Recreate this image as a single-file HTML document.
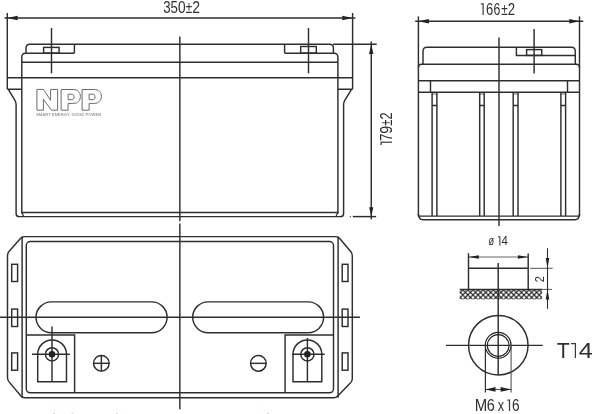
<!DOCTYPE html>
<html><head><meta charset="utf-8"><style>
html,body{margin:0;padding:0;background:#fff;}
body{width:600px;height:414px;overflow:hidden;}
svg{display:block;}
text{font-family:"Liberation Sans",sans-serif;}
</style></head><body>
<svg width="600" height="414" viewBox="0 0 600 414">
<defs>
<pattern id="hatch" width="5.1" height="5.1" patternUnits="userSpaceOnUse" x="460.2" y="287.3">
<path d="M-1,-1 L6.1,6.1 M6.1,-1 L-1,6.1" stroke="#222" stroke-width="1.15"/>
</pattern>
</defs>
<g fill="none" stroke="#2e2e2e" stroke-width="1.45">
<!-- ===== FRONT VIEW ===== -->
<line x1="4.5" y1="18" x2="355.4" y2="18"/>
<line x1="7.3" y1="13" x2="7.3" y2="89.2"/>
<line x1="352.6" y1="13" x2="352.6" y2="89.2"/>
<line x1="51.5" y1="28" x2="51.5" y2="73.3"/>
<line x1="308.5" y1="28" x2="308.5" y2="73.3"/>
<line x1="179.85" y1="36.6" x2="179.85" y2="221.2"/>
<line x1="179.85" y1="223.6" x2="179.85" y2="409.3"/>
<path d="M26,53.2 V48.1 Q26,44.3 29.8,44.3 H329.6 Q333.4,44.3 333.4,48.1 V53.2"/>
<line x1="333" y1="44.3" x2="376.7" y2="44.3"/>
<line x1="74.4" y1="44.3" x2="74.4" y2="53.2"/>
<line x1="284.6" y1="44.3" x2="284.6" y2="53.2"/>
<rect x="43.6" y="47.4" width="15.5" height="5.7"/>
<rect x="300.65" y="46.5" width="15.65" height="6.6"/>
<path d="M21.8,77.7 V57.2 Q21.8,53.2 25.8,53.2 H74.4"/>
<path d="M284.6,53.2 H333.9 Q337.9,53.2 337.9,57.2 V77.7"/>
<line x1="21.8" y1="62.2" x2="337.9" y2="62.2"/>
<line x1="7.3" y1="77.7" x2="352.6" y2="77.7"/>
<path d="M7.3,89.2 H21.8 M352.6,89.2 H337.9 M8.2,89.2 L14.81,100.16 Q16.1,102.3 16.1,104.8 V213.4 Q16.1,216.6 19.3,216.6 H340.4 Q343.6,216.6 343.6,213.4 V104.8 Q343.6,102.3 344.91,100.17 L351.7,89.2"/>
<line x1="21.8" y1="77.7" x2="21.8" y2="213.2"/>
<line x1="337.9" y1="77.7" x2="337.9" y2="213.2"/>
<line x1="21.1" y1="212.5" x2="338.6" y2="212.5"/>
<path d="M21.9,212.5 L23.7,216.4" stroke-width="1.2"/>
<path d="M337.8,212.5 L336,216.4" stroke-width="1.2"/>
<line x1="352.8" y1="216.6" x2="376.1" y2="216.6"/>
<line x1="349.8" y1="216.6" x2="350.8" y2="216.6"/>
<line x1="371.25" y1="41.4" x2="371.25" y2="219.3"/>

<!-- ===== TOP VIEW ===== -->
<path d="M24.6,236.6 H335.6 Q338.1,236.6 339.71,238.51 L350.69,251.59 Q352.3,253.5 352.3,256 V378.5 Q352.3,381 350.55,382.79 L337.75,395.97 Q336,397.75 333.5,397.75 H24.8 Q22.3,397.75 20.69,395.84 L9.11,381.91 Q7.5,380 7.5,377.5 V255.7 Q7.5,253.2 9.15,251.32 L20.45,238.48 Q22.1,236.6 24.6,236.6 Z"/>
<line x1="22.1" y1="236.6" x2="22.1" y2="397.75"/>
<line x1="338.1" y1="236.6" x2="338.1" y2="397.75"/>
<rect x="26.3" y="241.5" width="307.2" height="151.3" rx="4"/>
<rect x="11.7" y="264.3" width="5.9" height="17.2"/>
<rect x="11.7" y="309.1" width="5.9" height="17.4"/>
<rect x="11.7" y="352.9" width="5.9" height="17.3"/>
<rect x="342.2" y="264.3" width="5.8" height="17.2"/>
<rect x="342.2" y="309.1" width="5.8" height="17.4"/>
<rect x="342.2" y="352.9" width="5.8" height="17.3"/>
<line x1="0" y1="317.2" x2="360" y2="317.2"/>
<rect x="36" y="301.85" width="131.1" height="30.85" rx="15.42"/>
<rect x="192.7" y="301.85" width="130.9" height="30.85" rx="15.42"/>
<path d="M26.3,335 H74.6 V392.8"/>
<path d="M333.5,335 H285.1 V392.8"/>
<path d="M37.7,381.7 V354.3 A14.4,14.4 0 0 1 66.5,354.3 V381.7 Z"/>
<circle cx="52" cy="354.3" r="6.6"/>
<line x1="32" y1="354.3" x2="69.8" y2="354.3"/>
<line x1="52" y1="326.5" x2="52" y2="381.7"/>
<path d="M293,381.7 V354.3 A14.4,14.4 0 0 1 321.8,354.3 V381.7 Z"/>
<circle cx="307.4" cy="354.3" r="6.6"/>
<line x1="292.2" y1="354.3" x2="324.8" y2="354.3"/>
<line x1="307.4" y1="338" x2="307.4" y2="381.7"/>
<circle cx="101.35" cy="363.3" r="7.8"/>
<line x1="93.5" y1="363.3" x2="109.2" y2="363.3"/>
<line x1="101.35" y1="355.5" x2="101.35" y2="371.1"/>
<circle cx="258.35" cy="363.35" r="7.8"/>
<line x1="250.5" y1="363.35" x2="266.2" y2="363.35"/>

<!-- ===== SIDE VIEW ===== -->
<line x1="415.2" y1="21.2" x2="583.3" y2="21.2"/>
<line x1="418.4" y1="16.4" x2="418.4" y2="216"/>
<line x1="579.5" y1="16.4" x2="579.5" y2="216"/>
<path d="M423,64.3 V51.3 Q423,47.3 427,47.3 H571.3 Q575.3,47.3 575.3,51.3 V64.3"/>
<path d="M516.4,47.3 V55.4 H575.3"/>
<rect x="526.6" y="49.6" width="15.15" height="5.8"/>
<line x1="534.1" y1="29" x2="534.1" y2="73.5"/>
<line x1="499" y1="37.6" x2="499" y2="226"/>
<path d="M418.4,67.5 Q418.4,64.3 421.6,64.3 H576.3 Q579.5,64.3 579.5,67.5"/>
<line x1="418.4" y1="80.8" x2="579.5" y2="80.8"/>
<line x1="418.4" y1="92.2" x2="579.5" y2="92.2"/>
<line x1="430.5" y1="80.8" x2="430.5" y2="92.2"/>
<line x1="567.5" y1="80.8" x2="567.5" y2="92.2"/>
<line x1="418.4" y1="216.1" x2="579.5" y2="216.1"/>
<path d="M418.4,214 Q418.7,219.8 423,219.8 H575 Q579.2,219.8 579.5,214"/>
<path d="M432.1,92.2 V216.1 M436.9,92.2 V216.1 M432.1,105.4 H436.9"/>
<path d="M479.7,92.2 V216.1 M484.2,92.2 V216.1 M479.7,105.4 H484.2"/>
<path d="M513.2,92.2 V216.1 M518,92.2 V216.1 M513.2,105.4 H518"/>
<path d="M560.9,92.2 V216.1 M565.6,92.2 V216.1 M560.9,105.4 H565.6"/>
<path stroke-width="0.7" d="M432.1,94 H436.9 M479.7,94 H484.2 M513.2,94 H518 M560.9,94 H565.6"/>

<!-- ===== DETAIL ===== -->
<line x1="468.5" y1="257.0" x2="528.2" y2="257.0" stroke-width="1" stroke="#666"/>
<line x1="468.5" y1="253.2" x2="468.5" y2="289.4"/>
<line x1="528.2" y1="253.6" x2="528.2" y2="289.4"/>
<line x1="468.5" y1="268.3" x2="528.2" y2="268.3"/>
<line x1="530" y1="268.3" x2="552.6" y2="268.3" stroke-width="1" stroke="#555"/>
<line x1="459.7" y1="289.4" x2="542" y2="289.4"/>
<line x1="542" y1="289.4" x2="552" y2="289.4" stroke-width="1" stroke="#555"/>
<line x1="547.5" y1="248.2" x2="547.5" y2="308.8" stroke-width="1.1"/>
<line x1="498.2" y1="263" x2="498.2" y2="374.6"/>
<circle cx="498.3" cy="345.15" r="29.75"/>
<circle cx="498.2" cy="345.25" r="12.9" stroke-width="1.1" stroke="#222"/>
<circle cx="498.2" cy="345.45" r="10.85" stroke-width="1.1" stroke="#222"/>
<line x1="446" y1="345.35" x2="542.75" y2="345.35"/>
<line x1="485.4" y1="345" x2="485.4" y2="392.5" stroke-width="1.2"/>
<line x1="511.1" y1="345" x2="511.1" y2="392.5" stroke-width="1.1" stroke="#555"/>
<line x1="485.6" y1="389.4" x2="511.2" y2="389.4" stroke-width="0.9"/>
</g>
<rect x="459.7" y="289.9" width="82.4" height="9.4" fill="url(#hatch)"/>

<g fill="#222" stroke="none">
<path d="M7.3,18 L17.6,15.8 L17.6,20.2 Z"/>
<path d="M352.6,18 L342.3,15.8 L342.3,20.2 Z"/>
<path d="M418.4,21.2 L428.9,19 L428.9,23.4 Z"/>
<path d="M579.6,21.2 L569.3,19 L569.3,23.4 Z"/>
<path d="M371.25,44.3 L369.05,53.9 L373.45,53.9 Z"/>
<path d="M371.25,216.6 L369.15,207.2 L373.35,207.2 Z"/>
<path d="M468.5,257 L478.8,255.25 L478.8,258.75 Z"/>
<path d="M528.2,257 L517.9,255.25 L517.9,258.75 Z"/>
<path d="M547.5,268.3 L545.7,258.1 L549.3,258.1 Z"/>
<path d="M547.5,289.4 L545.7,299.5 L549.3,299.5 Z"/>
<path d="M485.6,389.4 L495.5,387 L495.5,391.8 Z"/>
<path d="M511.2,389.4 L500.6,387 L500.6,391.8 Z"/>
<circle cx="52" cy="354.3" r="3.3"/>
<circle cx="307.4" cy="354.3" r="3.3"/>
</g>

<g style="opacity:.995">
<!-- NPP logo -->
<g fill="#fff" stroke="#6a6a6a" stroke-width="1" fill-rule="evenodd" stroke-linejoin="round">
<path d="M36.9,89.4 H43.5 L50.6,100.3 V89.4 H57.6 V110.2 H51.5 L43.4,99.4 V110.2 H36.9 Z"/>
<path d="M61.1,89.5 H73.5 C77.8,89.5 80.4,92.5 80.4,96.45 C80.4,100.4 77.8,103.4 73.5,103.4 H68.1 V110.2 H61.1 Z M68.1,94.2 H72.2 C73.3,94.2 74,95.4 74,96.95 C74,98.5 73.3,99.7 72.2,99.7 H68.1 Z"/>
<path transform="translate(21,0)" d="M61.1,89.5 H73.5 C77.8,89.5 80.4,92.5 80.4,96.45 C80.4,100.4 77.8,103.4 73.5,103.4 H68.1 V110.2 H61.1 Z M68.1,94.2 H72.2 C73.3,94.2 74,95.4 74,96.95 C74,98.5 73.3,99.7 72.2,99.7 H68.1 Z"/>
</g>
<text x="36.1" y="116.1" font-size="4.3" font-weight="bold" fill="#9a9a9a" textLength="65.1" lengthAdjust="spacingAndGlyphs">SMART ENERGY, GOOD POWER</text>

<g fill="#2e2e2e">
<!-- T1 -->
<text transform="translate(163.20,12.54) scale(0.801,1)" font-size="16.57">3</text>
<text transform="translate(170.46,12.54) scale(0.801,1)" font-size="16.57">5</text>
<text transform="translate(177.94,12.54) scale(0.826,1)" font-size="16.57">0</text>
<text transform="translate(185.63,12.54) scale(0.706,1)" font-size="16.57">±</text>
<text transform="translate(192.20,12.54) scale(0.847,1)" font-size="16.57">2</text>
<!-- T2 -->
<path d="M480.90,3.80 H483.10 V14.90" fill="none" stroke="#383838" stroke-width="1.2"/>
<text transform="translate(485.95,14.74) scale(0.783,1)" font-size="16.57">6</text>
<text transform="translate(493.58,14.74) scale(0.744,1)" font-size="16.57">6</text>
<text transform="translate(501.13,14.74) scale(0.706,1)" font-size="16.57">±</text>
<text transform="translate(507.74,14.74) scale(0.794,1)" font-size="16.57">2</text>
<!-- T3 -->
<g transform="rotate(-90)">
<path d="M-145.00,381.20 H-142.20 V391.90" fill="none" stroke="#383838" stroke-width="1.2"/>
<text transform="translate(-141.07,391.75) scale(0.836,1)" font-size="16.00">7</text>
<text transform="translate(-133.87,391.75) scale(0.892,1)" font-size="16.00">9</text>
<text transform="translate(-125.85,391.75) scale(0.692,1)" font-size="16.00">±</text>
<text transform="translate(-119.54,391.75) scale(0.795,1)" font-size="16.00">2</text>
</g>
<!-- T4 -->
<text transform="translate(488.50,245.48) scale(0.702,1)" font-size="13.17">ø</text>
<path d="M498.00,236.83 H499.88 V245.60" fill="none" stroke="#383838" stroke-width="1.05"/>
<text transform="translate(501.45,245.48) scale(0.870,1)" font-size="13.17">4</text>
<!-- T5 -->
<g transform="rotate(-90)">
<text transform="translate(-282.35,543.88) scale(0.823,1)" font-size="13.31">2</text>
</g>
<!-- T6 -->
<text transform="translate(556.84,357.80) scale(0.999,1)" font-size="21.24">T</text>
<path d="M571.00,343.60 H575.40 V358.00" fill="none" stroke="#383838" stroke-width="1.2"/>
<text transform="translate(578.75,357.80) scale(1.181,1)" font-size="21.24">4</text>
<!-- T7 -->
<text transform="translate(474.79,410.75) scale(0.926,1)" font-size="16.14">M</text>
<text transform="translate(486.78,410.75) scale(0.897,1)" font-size="16.14">6</text>
<text transform="translate(497.84,410.75) scale(0.783,1)" font-size="16.14">x</text>
<path d="M507.50,400.10 H509.50 V410.90" fill="none" stroke="#383838" stroke-width="1.2"/>
<text transform="translate(512.02,410.75) scale(0.844,1)" font-size="16.14">6</text>

</g>
</g>
<g fill="#efc9d0">
<rect x="53" y="413" width="2" height="1"/>
<rect x="71.5" y="413" width="2" height="1"/>
<rect x="116" y="413" width="2" height="1"/>
<rect x="267" y="413" width="2" height="1"/>
</g>
</svg>
</body></html>
